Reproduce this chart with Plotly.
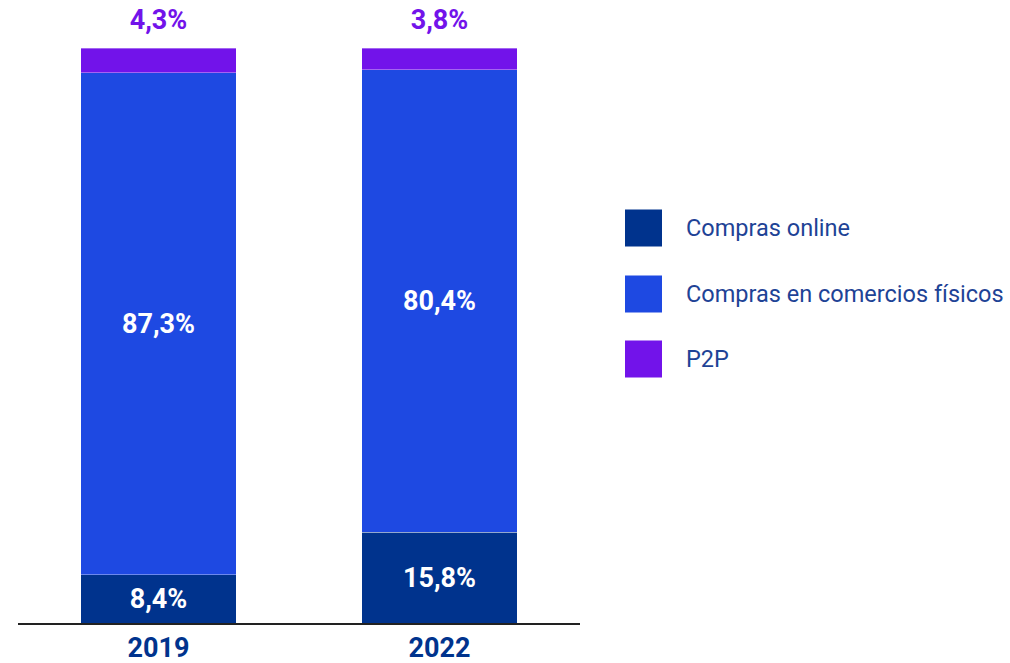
import plotly.graph_objects as go

# Share of payments by channel (%)
years = ["2019", "2022"]
online = [8.4, 15.8]
physical = [87.3, 80.4]
p2p = [4.3, 3.8]

series_names = ["Compras online", "Compras en comercios físicos", "P2P"]
colors = ["#00338D", "#1E49E2", "#7213EA"]
navy = "#00338D"


def pct(v):
    return f"{v:.1f}".replace(".", ",") + "%"


fig = go.Figure()
for name, vals, col, show_text in zip(series_names, [online, physical, p2p], colors, [True, True, False]):
    fig.add_trace(go.Bar(
        x=years, y=vals, name=name,
        marker=dict(color=col, line=dict(color="rgba(255,255,255,0.35)", width=1)),
        text=[pct(v) for v in vals] if show_text else None,
        textposition="inside" if show_text else "none",
        insidetextanchor="middle",
        textfont=dict(family="Roboto", size=27, color="white", weight="bold"),
        width=0.555,
        showlegend=False,
        hoverinfo="skip",
    ))

# P2P values shown above each stack
totals = [a + b + c for a, b, c in zip(online, physical, p2p)]
fig.add_trace(go.Scatter(
    x=years, y=totals, mode="markers+text",
    text=[pct(v) for v in p2p], textposition="top center",
    marker=dict(size=18, opacity=0),
    textfont=dict(family="Roboto", size=27, color="#7213EA", weight="bold"),
    cliponaxis=False, showlegend=False, hoverinfo="skip",
))

# Legend drawn as large swatches with labels
legend_rows = [228, 294, 359]
for name, col, yc in zip(series_names, colors, legend_rows):
    fig.add_shape(
        type="rect", xref="paper", yref="paper",
        x0=(625 - 18) / 562, x1=(662 - 18) / 562,
        y0=(623 - (yc + 18.5)) / 575, y1=(623 - (yc - 18.5)) / 575,
        fillcolor=col, line=dict(width=0),
    )
    fig.add_annotation(
        xref="paper", yref="paper",
        x=(684 - 18) / 562, y=(623 - yc) / 575,
        text=name, showarrow=False, xanchor="left", yanchor="middle",
        font=dict(family="Roboto", size=23.5, color="#1E4396"),
    )

fig.update_layout(
    barmode="stack",
    width=1010, height=663,
    margin=dict(l=18, r=430, t=48, b=40),
    paper_bgcolor="white", plot_bgcolor="white",
    xaxis=dict(
        range=[-0.5, 1.5], showline=True, linecolor="#222222", linewidth=1.5,
        ticks="", showgrid=False, automargin=False,
        tickfont=dict(family="Roboto", size=27, color=navy, weight="bold"),
    ),
    yaxis=dict(range=[0, 100], visible=False, showgrid=False, automargin=False),
)

fig.write_html("out.html")
